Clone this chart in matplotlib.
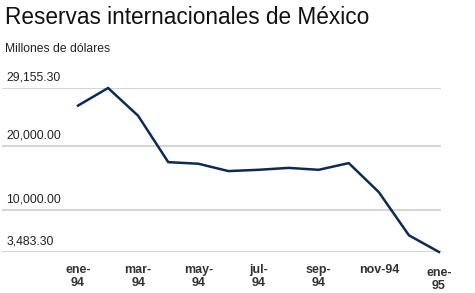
import matplotlib
matplotlib.use('Agg')
import matplotlib.pyplot as plt

plt.rcParams['font.family'] = ['Liberation Sans', 'DejaVu Sans']

MONTHS = ['ene-94', 'feb-94', 'mar-94', 'abr-94', 'may-94', 'jun-94', 'jul-94',
          'ago-94', 'sep-94', 'oct-94', 'nov-94', 'dic-94', 'ene-95']
RESERVES = [26400, 29155.3, 24800, 17550, 17300, 16150, 16350,
            16650, 16350, 17400, 12850, 6100, 3483.3]

Y_TICKS = [3483.3, 10000, 20000, 29155.3]
X_TICK_POS = [0, 2, 4, 6, 8, 10, 12]
X_TICK_LABELS = ['ene-\n94', 'mar-\n94', 'may-\n94', 'jul-\n94', 'sep-\n94', 'nov-94', 'ene-\n95']

LINE_COLOR = '#0d2b52'
GRID_COLOR = '#c9c9c9'
TEXT_COLOR = '#222222'

W, H = 475, 293
fig = plt.figure(figsize=(W / 100, H / 100), dpi=100)
fig.patch.set_facecolor('white')

# axes placed in pixel terms: gridlines from x=2 to x=441, top grid at y=88, bottom at y=252
left_px, right_px, top_px, bottom_px = 2, 441, 88, 252
ax = fig.add_axes([left_px / W, 1 - bottom_px / H, (right_px - left_px) / W, (bottom_px - top_px) / H])

step = (439 - 78) / 12
ax.set_xlim((left_px - 78) / step, (right_px - 78) / step)
ax.set_ylim(Y_TICKS[0], Y_TICKS[-1])

for spine in ax.spines.values():
    spine.set_visible(False)
ax.set_xticks([])
ax.set_yticks(Y_TICKS)
ax.tick_params(axis='y', length=0, labelleft=False)
ax.grid(axis='y', color=GRID_COLOR, linewidth=1.1)
ax.set_axisbelow(True)

x = list(range(len(MONTHS)))
ax.plot(x, RESERVES, color=LINE_COLOR, linewidth=1.8, clip_on=False,
        solid_joinstyle='miter', zorder=3)

for v in Y_TICKS:
    ax.annotate('{:,.2f}'.format(v), xy=(0, v), xycoords=('axes fraction', 'data'),
                xytext=(3, 3.5), textcoords='offset points', ha='left', va='bottom',
                fontsize=8.7, color=TEXT_COLOR)

for i, (pos, lab) in enumerate(zip(X_TICK_POS, X_TICK_LABELS)):
    dy = -10.5 if i == len(X_TICK_POS) - 1 else -8.5
    ax.annotate(lab, xy=(pos, 0), xycoords=('data', 'axes fraction'),
                xytext=(0, dy), textcoords='offset points', ha='center', va='top',
                fontsize=9, fontweight='bold', color='#333333', linespacing=1.15)

fig.text(5 / W, 1 - 6 / H, 'Reservas internacionales de México', ha='left', va='top',
         fontsize=16.3, color='#111111')
fig.text(5 / W, 1 - 43 / H, 'Millones de dólares', ha='left', va='top',
         fontsize=8.7, color=TEXT_COLOR)

fig.savefig('out.png', dpi=100, facecolor='white')
